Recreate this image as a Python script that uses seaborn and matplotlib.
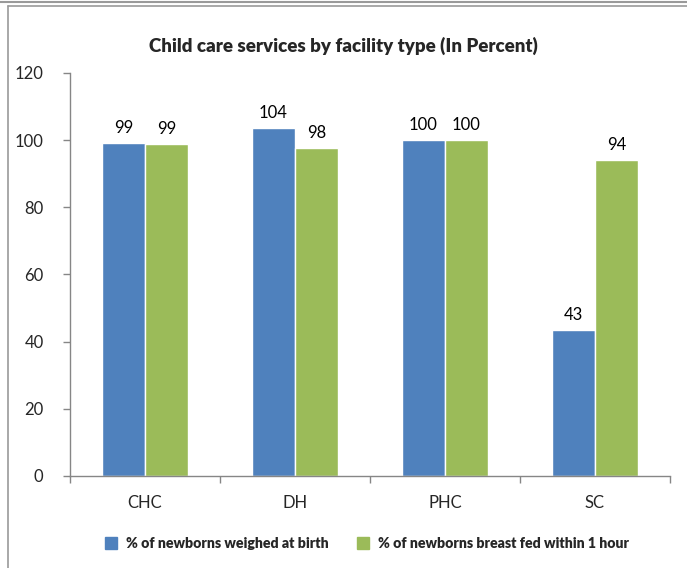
import numpy as np
import pandas as pd
import matplotlib
matplotlib.use('Agg')
import matplotlib.pyplot as plt
import seaborn as sns
from matplotlib.lines import Line2D

# data
facilities = ['CHC', 'DH', 'PHC', 'SC']
series_names = ['% of newborns weighed at birth', '% of newborns breast fed within 1 hour']
weighed = [99.2, 103.5, 100.1, 43.4]
breastfed = [99.0, 97.7, 100.0, 94.1]
colors = ['#4F81BD', '#9BBB59']

df = pd.DataFrame({
    'facility': facilities * 2,
    'series': [series_names[0]] * 4 + [series_names[1]] * 4,
    'value': weighed + breastfed,
})

sns.set_style('white')
plt.rcParams['font.family'] = ['Lato', 'DejaVu Sans']

fig = plt.figure(figsize=(6.87, 5.68), dpi=100)
ax = fig.add_axes([0.1019, 0.162, 0.873, 0.7095])

sns.barplot(data=df, x='facility', y='value', hue='series', order=facilities,
            hue_order=series_names, palette=colors, width=0.575, saturation=1,
            ax=ax, legend=False)

for cont in ax.containers:
    ax.bar_label(cont, labels=[f'{v:.0f}' for v in cont.datavalues],
                 padding=5, fontsize=12, color='#000000')

ax.set_xlim(-0.5, 3.5)
ax.set_ylim(0, 120)
ax.set_yticks(np.arange(0, 121, 20))
ax.set_xlabel('')
ax.set_ylabel('')
ax.tick_params(axis='y', which='major', length=5, width=1, color='#868686',
               labelsize=12, pad=14, left=True)
ax.tick_params(axis='x', which='major', length=0, labelsize=12, pad=14)
ax.set_xticks(np.arange(-0.5, 4.0, 1.0), minor=True)
ax.tick_params(axis='x', which='minor', length=5, width=1, color='#868686', bottom=True)

for side in ['top', 'right']:
    ax.spines[side].set_visible(False)
for side in ['left', 'bottom']:
    ax.spines[side].set_color('#868686')
    ax.spines[side].set_linewidth(1)

fig.text(0.5, 0.92, 'Child care services by facility type (In Percent)',
         ha='center', va='center', fontsize=13.5, fontweight='heavy')

handles = [Line2D([], [], marker='s', linestyle='', markersize=8,
                  markerfacecolor=c, markeredgecolor=c) for c in colors]
fig.legend(handles, series_names, loc='center', bbox_to_anchor=(0.528, 0.044),
           ncol=2, frameon=False, handletextpad=0.05, columnspacing=1.4,
           prop={'weight': 'heavy', 'size': 10.2})

# outer frame lines like the original chart area
fig.add_artist(Line2D([0, 1], [0.997, 0.997], color='#9a9a9a', lw=1.5,
                      transform=fig.transFigure))
fig.add_artist(Line2D([0.012, 1], [0.989, 0.989], color='#9a9a9a', lw=1.2,
                      transform=fig.transFigure))
fig.add_artist(Line2D([0.012, 0.012], [0, 0.989], color='#9a9a9a', lw=1.2,
                      transform=fig.transFigure))

fig.savefig('out.png', dpi=100)
